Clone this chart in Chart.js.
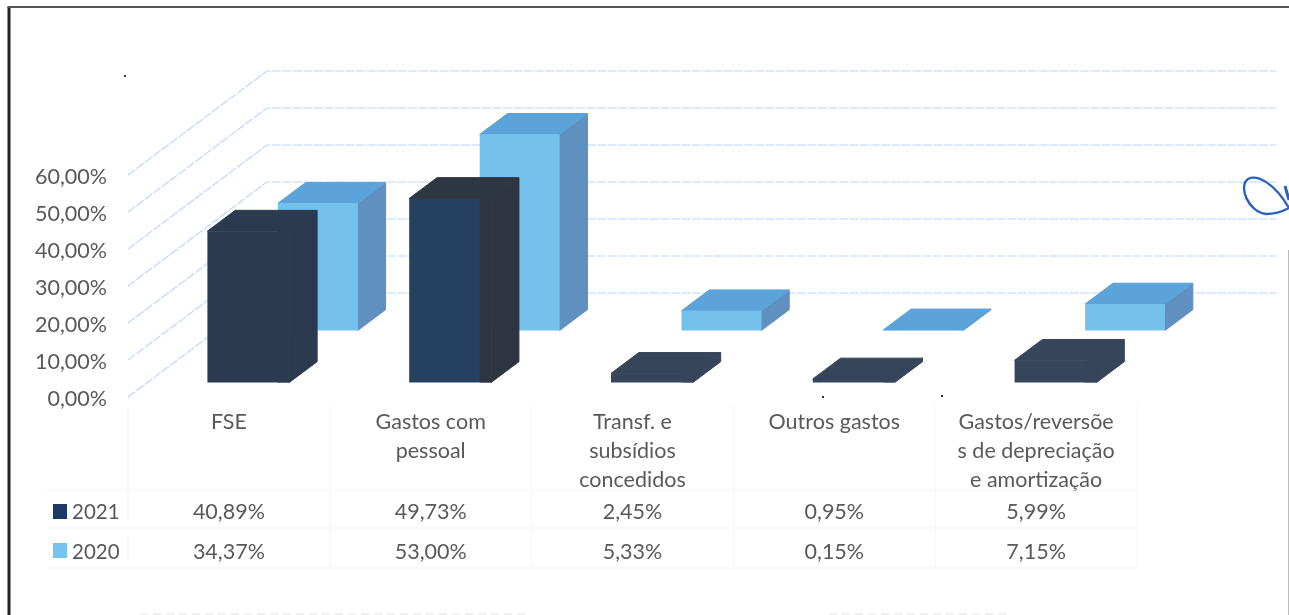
<!DOCTYPE html>
<html>
<head>
<meta charset="utf-8">
<style>
  html, body { margin: 0; padding: 0; background: #fff; overflow: hidden; }
  canvas { display: block; }
</style>
<script src="https://cdn.jsdelivr.net/npm/chart.js@4"></script>
</head>
<body>
<canvas id="chart" width="1289" height="615"></canvas>
<script>
let categories = [
  "FSE",
  ["Gastos com", "pessoal"],
  ["Transf. e", "subsídios", "concedidos"],
  "Outros gastos",
  ["Gastos/reversõe", "s de depreciação", "e amortização"],
];
let values2021 = [40.89, 49.73, 2.45, 0.95, 5.99];
let values2020 = [34.37, 53.0, 5.33, 0.15, 7.15];

let front2021 = ["#2c3a50", "#26405f", "#36455a", "#36455a", "#36455a"];
let top2021 = ["#2c3a50", "#2e3642", "#36455a", "#36455a", "#36455a"];
let side2021 = ["#2c3a50", "#2f3540", "#36455a", "#36455a", "#36455a"];

const TEXT = "#595959";
const FONT = "Lato";
const FONT_SIZE = 21.5;
// the 3d box: how far the back wall sits from the front plane
const WALL_DX = 139;
const WALL_DY = 104;

function pct(v) {
  return v.toFixed(2).replace(".", ",") + "%";
}

const depths = [
  { front: 0.14, back: 0.34, top: top2021, side: side2021 },
  { front: 0.64, back: 0.84, top: "#5ba3d8", side: "#5f90bf" },
];

function pick(c, i) {
  return Array.isArray(c) ? c[i] : c;
}

function poly(ctx, color, pts) {
  ctx.fillStyle = color;
  ctx.strokeStyle = color;
  ctx.lineWidth = 1;
  ctx.beginPath();
  pts.forEach((p, i) => (i ? ctx.lineTo(p[0], p[1]) : ctx.moveTo(p[0], p[1])));
  ctx.closePath();
  ctx.fill();
  ctx.stroke();
}

const box3d = {
  id: "box3d",
  beforeDatasetsDraw(chart) {
    const { ctx, chartArea, scales } = chart;
    const left = chartArea.left;
    const right = chartArea.right;
    // grid lines on the left wall and the back wall
    ctx.save();
    ctx.strokeStyle = "#bad8fa";
    ctx.lineWidth = 1.2;
    ctx.setLineDash([9, 1.5]);
    scales.y.ticks.forEach((t) => {
      const y = scales.y.getPixelForValue(t.value);
      ctx.beginPath();
      ctx.moveTo(left, y);
      ctx.lineTo(left + WALL_DX, y - WALL_DY);
      ctx.lineTo(right + WALL_DX, y - WALL_DY);
      ctx.stroke();
    });
    ctx.restore();
  },
  beforeDatasetDraw(chart, args) {
    const { ctx } = chart;
    const d = depths[args.index];
    const meta = chart.getDatasetMeta(args.index);
    const ddx = (d.back - d.front) * WALL_DX;
    const ddy = (d.back - d.front) * WALL_DY;
    ctx.save();
    ctx.translate(d.front * WALL_DX, -d.front * WALL_DY);
    meta.data.forEach((bar, i) => {
      const l = bar.x - bar.width / 2;
      const r = bar.x + bar.width / 2;
      poly(ctx, pick(d.side, i), [[r, bar.y], [r + ddx, bar.y - ddy], [r + ddx, bar.base - ddy], [r, bar.base]]);
      poly(ctx, pick(d.top, i), [[l, bar.y], [l + ddx, bar.y - ddy], [r + ddx, bar.y - ddy], [r, bar.y]]);
    });
  },
  afterDatasetDraw(chart, args) {
    const { ctx } = chart;
    if (args.index === 0) {
      // in the scan the dark front goes darker where it overlaps the light bar
      const dark = chart.getDatasetMeta(0).data;
      const light = chart.getDatasetMeta(1).data;
      const shift = (depths[1].front - depths[0].front) * WALL_DX;
      dark.forEach((bar, i) => {
        const x0 = light[i].x - light[i].width / 2 + shift;
        const x1 = bar.x + bar.width / 2;
        ctx.fillStyle = side2021[i];
        ctx.fillRect(x0, bar.y, x1 - x0, bar.base - bar.y);
      });
    }
    ctx.restore();
  },
  afterDraw(chart) {
    const { ctx, chartArea, scales } = chart;
    const x = scales.x;
    const band = (chartArea.right - chartArea.left) / categories.length;

    // data table under the axis
    ctx.save();
    ctx.strokeStyle = "#f5f5f5";
    ctx.lineWidth = 1;
    [490, 528, 568].forEach((y) => {
      ctx.beginPath();
      ctx.moveTo(45, y);
      ctx.lineTo(chartArea.right, y);
      ctx.stroke();
    });
    categories.forEach((c, i) => {
      const px = x.getPixelForTick(i) - band / 2;
      ctx.beginPath();
      ctx.moveTo(px, 405);
      ctx.lineTo(px, 568);
      ctx.stroke();
    });
    ctx.beginPath();
    ctx.moveTo(chartArea.right, 405);
    ctx.lineTo(chartArea.right, 568);
    ctx.stroke();

    ctx.font = FONT_SIZE + "px " + FONT;
    ctx.fillStyle = TEXT;
    ctx.textBaseline = "middle";
    ctx.textAlign = "center";
    categories.forEach((c, i) => {
      const px = x.getPixelForTick(i);
      ctx.fillText(pct(values2021[i]), px, 512.5);
      ctx.fillText(pct(values2020[i]), px, 552.5);
    });
    ctx.textAlign = "left";
    ctx.font = "20.5px " + FONT;
    ctx.fillText("2021", 72, 512.5);
    ctx.fillText("2020", 72, 552.5);
    ctx.fillStyle = "#1f3864";
    ctx.fillRect(53, 504, 14, 15);
    ctx.fillStyle = "#74c4ef";
    ctx.fillRect(53, 543, 14, 15);

    // scan leftovers: page frame, pen mark, specks
    ctx.fillStyle = "#222";
    ctx.fillRect(7.5, 7, 3, 608);
    ctx.fillStyle = "#555";
    ctx.fillRect(7.5, 6, 1282, 2);
    ctx.fillStyle = "#bbb";
    ctx.fillRect(1288, 250, 1, 365);
    ctx.strokeStyle = "#2a62c0";
    ctx.lineWidth = 2.4;
    ctx.beginPath();
    ctx.moveTo(1289, 208);
    ctx.bezierCurveTo(1275, 184, 1258, 174, 1248, 179);
    ctx.bezierCurveTo(1238, 186, 1248, 212, 1266, 214);
    ctx.quadraticCurveTo(1278, 214, 1289, 208);
    ctx.stroke();
    ctx.lineWidth = 3;
    ctx.beginPath();
    ctx.moveTo(1285, 186);
    ctx.lineTo(1289, 200);
    ctx.stroke();
    ctx.fillStyle = "#333";
    [[124, 75], [822, 396], [941, 395]].forEach((p) => ctx.fillRect(p[0], p[1], 2, 2));
    ctx.fillStyle = "#efefef";
    for (let px = 140; px < 1000; px += 13) {
      if (px < 530 || px > 820) ctx.fillRect(px, 613, 8, 2);
    }
    ctx.restore();
  },
};

new Chart(document.getElementById("chart"), {
  type: "bar",
  data: {
    labels: categories,
    datasets: [
      {
        label: "2021",
        data: values2021,
        backgroundColor: front2021,
        categoryPercentage: 1,
        barPercentage: 0.406,
        clip: false,
      },
      {
        label: "2020",
        data: values2020,
        backgroundColor: "#74c2ec",
        categoryPercentage: 1,
        barPercentage: 0.396,
        clip: false,
      },
    ],
  },
  options: {
    responsive: false,
    animation: false,
    grouped: false,
    layout: {
      padding: { left: 0, right: 152, top: 175, bottom: 0 },
    },
    plugins: {
      legend: { display: false },
      tooltip: { enabled: false },
    },
    scales: {
      x: {
        grid: { display: false, drawTicks: false },
        border: { display: false },
        afterFit(scale) {
          scale.height = 218;
        },
        ticks: {
          autoSkip: false,
          maxRotation: 0,
          padding: 10,
          color: TEXT,
          font: { family: FONT, size: FONT_SIZE, lineHeight: 1.36 },
        },
      },
      y: {
        min: 0,
        max: 60,
        grid: { display: false, drawTicks: false },
        border: { display: false },
        afterFit(scale) {
          scale.width = 128;
          // labels sit a little lower than canvas "middle" gives with this font
          scale.drawLabels = function (area) {
            const ctx = this.ctx;
            ctx.save();
            ctx.translate(0, 2.5);
            Chart.Scale.prototype.drawLabels.call(this, area);
            ctx.restore();
          };
        },
        ticks: {
          stepSize: 10,
          padding: 21,
          color: TEXT,
          font: { family: FONT, size: FONT_SIZE },
          callback: (v) => pct(v),
        },
      },
    },
  },
  plugins: [box3d],
});
</script>
</body>
</html>
